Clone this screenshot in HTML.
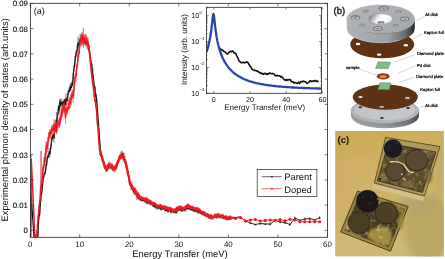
<!DOCTYPE html><html><head><meta charset="utf-8"><style>html,body{margin:0;padding:0;background:#fff;overflow:hidden}svg{display:block;will-change:transform}text{font-family:"Liberation Sans",sans-serif;text-rendering:geometricPrecision}</style></head><body>
<svg width="445" height="259" viewBox="0 0 445 259">
<defs><linearGradient id="side" x1="0" x2="1" y1="0" y2="0"><stop offset="0" stop-color="#aeb1b5"/><stop offset="0.6" stop-color="#9da0a4"/><stop offset="0.86" stop-color="#6c6e71"/><stop offset="1" stop-color="#262626"/></linearGradient><linearGradient id="topf" x1="0" x2="1" y1="0" y2="1"><stop offset="0" stop-color="#b4b7bb"/><stop offset="1" stop-color="#a2a5a9"/></linearGradient><linearGradient id="side2" x1="0" x2="1" y1="0" y2="0"><stop offset="0" stop-color="#a8a8a8"/><stop offset="0.5" stop-color="#9a9a9a"/><stop offset="0.85" stop-color="#6a6a6a"/><stop offset="1" stop-color="#262626"/></linearGradient><linearGradient id="cone" x1="0" x2="1" y1="0" y2="0.3"><stop offset="0" stop-color="#5e6266"/><stop offset="0.3" stop-color="#b8babc"/><stop offset="0.45" stop-color="#e8e8e8"/><stop offset="0.6" stop-color="#ffffff"/><stop offset="1" stop-color="#f2f2f2"/></linearGradient><linearGradient id="photo" x1="0" x2="0.3" y1="0" y2="1"><stop offset="0" stop-color="#ccaa58"/><stop offset="0.5" stop-color="#d0b064"/><stop offset="1" stop-color="#ceb878"/></linearGradient><clipPath id="mainclip"><rect x="30.5" y="3.3" width="297" height="234"/></clipPath><clipPath id="inclip"><rect x="206.5" y="7.3" width="115" height="86"/></clipPath></defs>
<g clip-path="url(#mainclip)">
<polyline points="30.5,237.2 30.9,215.0 31.2,195.0 32.5,215.0 34.0,237.2 37.5,237.2 38.0,234.4 38.5,222.1 39.0,216.3 39.5,215.6 40.0,208.9 40.5,202.4 41.0,195.5 41.5,193.6 42.0,189.7 42.5,185.6 43.0,179.3 43.5,178.0 44.0,174.5 44.5,173.6 45.0,173.5 45.5,171.3 46.0,166.5 46.5,163.9 47.0,160.9 47.5,157.5 48.0,155.7 48.5,156.8 49.0,153.1 49.5,151.4 50.0,153.9 50.5,148.2 51.0,146.6 51.5,141.6 52.0,137.6 52.5,138.4 53.0,134.5 53.5,135.7 54.0,138.1 54.5,132.9 55.0,125.6 55.5,128.6 56.0,124.2 56.5,120.6 57.0,119.6 57.5,115.5 58.0,112.9 58.5,106.2 59.0,109.8 59.5,108.2 60.0,100.5 60.5,105.6 61.0,105.0 61.5,102.4 62.0,102.8 62.5,102.2 63.0,105.9 63.5,101.7 64.0,104.4 64.5,99.7 65.0,104.3 65.5,104.2 66.0,99.0 66.5,98.8 67.0,100.8 67.5,97.7 68.0,94.2 68.5,91.5 69.0,90.7 69.5,91.4 70.0,87.2 70.5,90.0 71.0,85.4 71.5,87.6 72.0,83.2 72.5,85.4 73.0,78.5 73.5,72.2 74.0,68.4 74.5,65.2 75.0,61.2 75.5,56.7 76.0,53.1 76.5,51.9 77.0,51.4 77.5,47.5 78.0,42.6 78.5,45.1 79.0,43.7 79.5,44.0 80.0,39.7 80.5,42.1 81.0,38.0 81.5,40.7 82.0,38.5 82.5,38.1 83.0,41.6 83.5,37.8 84.0,40.1 84.5,42.2 85.0,39.3 85.5,39.5 86.0,43.3 86.5,41.3 87.0,43.1 87.5,41.2 88.0,44.6 88.5,45.3 89.0,50.6 89.5,50.3 90.0,58.2 90.5,56.8 91.0,63.6 91.5,62.9 92.0,67.5 92.5,74.0 93.0,74.7 93.5,79.0 94.0,84.9 94.5,86.5 95.0,87.9 95.5,96.1 96.0,94.9 96.5,98.6 97.0,105.2 97.5,112.4 98.0,119.3 98.5,123.5 99.0,132.1 99.5,138.0 100.0,145.5 100.5,151.0 101.0,154.4 101.5,156.6 102.0,158.0 102.5,160.1 103.0,161.5 103.5,162.5 104.0,163.3 104.5,166.0 105.0,166.4 105.5,166.8 106.0,168.8 106.5,170.9 107.0,169.1 107.5,169.2 108.0,167.6 108.5,166.8 109.0,165.4 109.5,167.5 110.0,165.5 110.5,166.4 111.0,166.6 111.5,166.2 112.0,168.3 112.5,167.7 113.0,167.7 113.5,167.9 114.0,168.5 114.5,168.1 115.0,168.6 115.5,167.3 116.0,167.6 116.5,166.6 117.0,165.8 117.5,162.4 118.0,161.6 118.5,159.6 119.0,159.1 119.5,157.8 120.0,157.6 120.5,156.7 121.0,154.8 121.5,154.5 122.0,154.1 122.5,153.6 123.0,154.5 123.5,156.4 124.0,156.5 124.5,159.7 125.0,160.1 125.5,161.3 126.0,163.2 126.5,165.5 127.0,167.8 127.5,170.8 128.0,172.9 128.5,175.0 129.0,178.4 129.5,179.7 130.0,184.1 130.5,185.6 131.0,186.4 131.5,187.0 132.0,188.5 132.5,189.7 133.0,189.4 133.5,191.4 134.0,192.1 134.5,191.6 135.0,191.8 135.5,194.0 136.0,193.5 136.5,194.8 137.0,196.7 137.5,196.8 138.0,196.4 138.5,198.7 139.0,197.6 139.5,197.1 140.0,199.2 140.5,198.6 141.0,199.5 141.5,200.6 142.0,200.4 142.5,199.5 143.0,200.4 143.5,200.5 144.0,200.8 144.5,200.5 145.0,201.3 145.5,200.6 146.0,201.2 146.5,201.5 147.0,202.7 147.5,201.5 148.0,202.9 148.5,202.1 149.0,203.0 149.5,202.9 150.0,203.3 150.5,204.0 151.0,203.7 151.5,203.5 152.0,203.9 152.5,204.1 153.0,205.8 153.5,205.7 154.0,206.6 154.5,206.4 155.0,205.6 155.5,207.0 156.0,207.5 156.5,207.8 157.0,207.5 157.5,207.4 158.0,207.6 158.5,208.3 159.0,207.5 159.5,208.0 160.0,208.0 160.5,208.9 161.0,208.8 161.5,209.1 162.0,209.1 162.5,208.3 163.0,208.4 163.5,209.0 164.0,208.8 164.5,209.3 165.0,209.9 165.5,210.5 166.0,210.1 166.5,210.7 167.0,209.6 167.5,210.2 168.0,211.5 168.5,210.1 169.0,210.7 169.5,210.2 170.0,210.3 170.5,211.8 171.0,212.1 171.5,211.6 172.0,210.8 172.5,211.2 173.0,211.2 173.5,212.1 174.0,212.2 174.5,211.9 175.0,212.1 175.5,211.5 176.0,211.9 176.5,212.1 177.0,211.3 177.5,209.7 178.0,210.0 178.5,209.9 179.0,208.8 179.5,210.1 180.0,209.5 180.5,210.1 181.0,209.7 181.5,210.9 182.0,210.7 182.5,210.4 183.0,209.8 183.5,210.5 184.0,209.5 184.5,210.2 185.0,210.3 185.5,208.8 186.0,209.1 186.5,208.7 187.0,208.3 187.5,208.5 188.0,208.6 188.5,208.2 189.0,208.0 189.5,209.1 190.0,208.3 190.5,209.3 191.0,209.3 191.5,209.8 192.0,210.2 192.5,209.3 193.0,210.2 193.5,210.0 194.0,210.5 194.5,211.2 195.0,210.7 195.5,209.7 196.0,210.6 196.5,211.2 197.0,211.6 197.5,211.3 198.0,211.7 198.5,210.4 199.0,212.1 199.5,212.0 200.0,212.2 200.5,213.1 201.0,213.4 201.5,212.4 202.0,213.9 202.5,214.1 203.0,213.3 203.5,214.5 204.0,214.5 204.5,214.1 205.0,215.4 205.5,214.5 206.0,215.6 206.5,215.5 207.0,215.5 207.5,216.3 208.0,216.3 208.5,216.1 209.0,217.7 209.5,216.4 210.0,216.5 210.5,217.6 211.0,218.2 211.5,217.8 212.0,217.9 212.5,217.3 213.0,217.6 213.5,216.9 214.0,216.7 214.5,217.0 215.0,216.1 215.5,216.0 216.0,217.1 216.5,216.0 217.0,216.9 217.5,216.9 218.0,216.1 218.5,216.5 219.0,216.8 219.5,217.1 220.0,216.0 220.5,216.2 221.0,216.7 221.5,217.0 222.0,216.8 222.5,216.5 223.0,217.6 223.5,218.4 224.0,217.5 224.5,218.0 225.0,217.9 225.5,218.1 226.0,219.0 226.5,218.2 227.0,218.8 227.5,218.5 228.0,218.6 228.5,219.3 229.0,217.9 229.5,219.2 230.0,218.3 230.5,218.9" fill="none" stroke="#111" stroke-width="1.2" stroke-linejoin="round"/>
<polyline points="230.5,218.9 230.5,217.0 235.5,217.5 240.5,216.8 245.4,221.0 250.4,223.0 255.3,224.5 260.3,223.5 265.2,224.0 270.2,224.0 275.1,220.5 280.1,221.8 285.0,222.7 290.0,224.5 294.9,218.0 299.9,220.4 304.8,219.0 309.8,218.6 314.7,220.0 319.7,217.7" fill="none" stroke="#111" stroke-width="0.9"/>
<path d="M30.5 234.7V237.2M31.2 190.1V199.9M34.0 232.5V237.2M38.0 230.4V237.2M39.0 213.5V219.0M40.0 203.5V214.2M41.0 190.1V200.9M42.0 185.6V193.8M43.0 175.3V183.4M44.0 171.6V177.4M45.0 171.7V175.4M46.0 163.0V169.9M47.0 156.5V165.4M48.0 153.6V157.8M49.0 147.8V158.5M50.0 151.0V156.7M51.0 143.7V149.4M52.0 135.6V139.6M53.0 128.2V140.8M54.0 133.0V143.2M55.0 119.9V131.4M56.0 119.6V128.7M57.0 117.6V121.6M58.0 109.7V116.2M59.0 105.7V113.8M60.0 98.1V102.8M61.0 98.9V111.1M62.0 99.3V106.2M63.0 103.4V108.4M64.0 99.0V109.9M65.0 101.9V106.7M66.0 93.1V105.0M67.0 96.9V104.6M68.0 90.0V98.5M69.0 87.4V94.1M70.0 83.3V91.2M71.0 82.7V88.0M72.0 81.2V85.2M73.0 72.8V84.2M74.0 65.5V71.2M75.0 55.9V66.5M76.0 50.3V55.8M77.0 45.2V57.5M78.0 36.7V48.4M79.0 38.5V48.9M80.0 34.4V44.9M81.0 33.6V42.4M82.0 33.4V43.6M83.0 39.3V44.0M84.0 36.2V44.1M85.0 33.8V44.8M86.0 40.6V46.0M87.0 37.2V49.1M88.0 38.8V50.4M89.0 47.0V54.3M90.0 54.8V61.6M91.0 59.8V67.4M92.0 64.0V71.0M93.0 68.4V81.0M94.0 81.3V88.4M95.0 86.0V89.8M96.0 92.7V97.1M97.0 100.1V110.2M98.0 113.0V125.5M99.0 128.1V136.2M100.0 141.5V149.5M101.0 151.8V156.9M102.0 154.9V161.1M103.0 159.9V163.2M104.0 160.6V166.1M105.0 163.8V169.0M106.0 166.0V171.5M107.0 167.5V170.6M108.0 166.0V169.1M109.0 163.4V167.5M110.0 161.9V169.1M111.0 164.6V168.6M112.0 165.6V171.0M113.0 165.8V169.6M114.0 167.1V169.8M115.0 167.3V169.8M116.0 164.4V170.9M117.0 162.6V169.0M118.0 159.5V163.6M119.0 156.2V162.1M120.0 154.7V160.5M121.0 151.3V158.3M122.0 150.4V157.7M123.0 152.3V156.7M124.0 152.7V160.2M125.0 156.4V163.7M126.0 160.5V165.8M127.0 164.3V171.2M128.0 170.5V175.3M129.0 176.3V180.5M130.0 182.3V185.8M131.0 182.9V189.8M132.0 186.9V190.0M133.0 188.2V190.7M134.0 188.8V195.3M135.0 188.6V194.9M136.0 191.1V195.9M137.0 193.4V200.1M138.0 195.2V197.6M139.0 195.8V199.4M140.0 197.3V201.0M141.0 198.1V200.8M142.0 199.5V201.4M143.0 199.6V201.2M144.0 199.6V202.0M145.0 199.2V203.4M146.0 198.9V203.4M147.0 200.9V204.6M148.0 201.5V204.3M149.0 201.9V204.1M150.0 201.1V205.5M151.0 202.2V205.2M152.0 202.0V205.7M153.0 205.1V206.5M154.0 205.6V207.6M155.0 203.6V207.6M156.0 205.6V209.5M157.0 205.5V209.6M158.0 206.0V209.3M159.0 206.1V208.8M160.0 206.4V209.6M161.0 206.7V210.8M162.0 207.9V210.2M163.0 206.9V209.9M164.0 207.7V209.9M165.0 208.0V211.8M166.0 209.4V210.8M167.0 207.8V211.4M168.0 209.3V213.7M169.0 210.0V211.4M170.0 208.7V211.9M171.0 210.4V213.8M172.0 208.8V212.8M173.0 209.6V212.8M174.0 211.1V213.3M175.0 210.8V213.4M176.0 209.7V214.1M177.0 209.2V213.5M178.0 209.1V210.8M179.0 208.0V209.6M180.0 208.7V210.3M181.0 209.0V210.4M182.0 209.3V212.0M183.0 208.9V210.7M184.0 207.4V211.5M185.0 208.6V212.1M186.0 208.2V209.9M187.0 206.8V209.8M188.0 207.4V209.8M189.0 206.6V209.5M190.0 207.3V209.3M191.0 208.4V210.3M192.0 209.2V211.1M193.0 209.0V211.5M194.0 208.7V212.3M195.0 209.2V212.2M196.0 209.9V211.3M197.0 209.8V213.4M198.0 209.6V213.8M199.0 210.2V214.0M200.0 210.3V214.1M201.0 212.8V214.1M202.0 212.5V215.3M203.0 212.6V214.1M204.0 212.6V216.4M205.0 214.5V216.3M206.0 213.8V217.4M207.0 214.4V216.5M208.0 214.6V218.1M209.0 216.5V218.9M210.0 215.8V217.2M211.0 217.0V219.5M212.0 216.8V219.1M213.0 215.5V219.7M214.0 215.5V217.8M215.0 214.6V217.5M216.0 215.6V218.7M217.0 214.8V219.1M218.0 215.3V217.0M219.0 215.2V218.4M220.0 214.5V217.4M221.0 214.9V218.5M222.0 214.6V219.0M223.0 216.4V218.7M224.0 215.8V219.3M225.0 216.4V219.4M226.0 217.5V220.6M227.0 218.0V219.5M228.0 216.7V220.6M229.0 215.6V220.1M230.0 217.1V219.5M83.3 27.7V37.0M59.3 103.0V112.0M56.6 112.0V120.0" stroke="#222" stroke-width="0.55" fill="none"/>
<path d="M230.5 215.4V218.6M235.5 216.9V218.1M240.5 216.3V217.3M245.4 219.4V222.6M250.4 222.3V223.7M255.3 223.9V225.1M260.3 222.3V224.7M265.2 223.1V224.9M270.2 222.5V225.5M275.1 219.8V221.2M280.1 220.2V223.4M285.0 221.9V223.5M290.0 223.3V225.7M294.9 216.5V219.5M299.9 219.1V221.7M304.8 217.5V220.5M309.8 217.3V219.9M314.7 219.5V220.5M319.7 216.2V219.2" stroke="#222" stroke-width="0.7" fill="none"/>
<path d="M230.5 216.4l1.1 1.4h-2.2z" fill="#111"/><path d="M235.5 216.9l1.1 1.4h-2.2z" fill="#111"/><path d="M240.5 216.2l1.1 1.4h-2.2z" fill="#111"/><path d="M245.4 220.4l1.1 1.4h-2.2z" fill="#111"/><path d="M250.4 222.4l1.1 1.4h-2.2z" fill="#111"/><path d="M255.3 223.9l1.1 1.4h-2.2z" fill="#111"/><path d="M260.3 222.9l1.1 1.4h-2.2z" fill="#111"/><path d="M265.2 223.4l1.1 1.4h-2.2z" fill="#111"/><path d="M270.2 223.4l1.1 1.4h-2.2z" fill="#111"/><path d="M275.1 219.9l1.1 1.4h-2.2z" fill="#111"/><path d="M280.1 221.2l1.1 1.4h-2.2z" fill="#111"/><path d="M285.0 222.1l1.1 1.4h-2.2z" fill="#111"/><path d="M290.0 223.9l1.1 1.4h-2.2z" fill="#111"/><path d="M294.9 217.4l1.1 1.4h-2.2z" fill="#111"/><path d="M299.9 219.8l1.1 1.4h-2.2z" fill="#111"/><path d="M304.8 218.4l1.1 1.4h-2.2z" fill="#111"/><path d="M309.8 218.0l1.1 1.4h-2.2z" fill="#111"/><path d="M314.7 219.4l1.1 1.4h-2.2z" fill="#111"/><path d="M319.7 217.1l1.1 1.4h-2.2z" fill="#111"/>
<polyline points="30.6,237.2 31.0,200.0 31.3,159.5 33.2,200.0 34.8,237.2 36.5,234.2 37.0,234.3 37.5,227.8 38.0,217.7 38.5,213.9 39.0,207.7 39.5,203.6 40.0,199.9 40.5,190.0 41.0,185.2 41.5,187.8 42.0,180.0 42.5,178.4 43.0,167.6 43.5,167.2 44.0,165.7 44.5,157.7 45.0,160.9 45.5,157.8 46.0,147.8 46.5,145.1 47.0,147.2 47.5,148.2 48.0,141.3 48.5,136.9 49.0,137.9 49.5,132.4 50.0,133.2 50.5,134.3 51.0,133.7 51.5,129.6 52.0,128.9 52.5,128.2 53.0,130.2 53.5,127.8 54.0,124.2 54.5,132.5 55.0,128.8 55.5,129.2 56.0,123.6 56.5,131.5 57.0,129.1 57.5,120.1 58.0,121.5 58.5,124.8 59.0,123.8 59.5,124.8 60.0,117.6 60.5,120.6 61.0,117.4 61.5,110.9 62.0,111.5 62.5,112.2 63.0,109.3 63.5,105.2 64.0,109.1 64.5,105.9 65.0,110.0 65.5,117.9 66.0,112.6 66.5,108.2 67.0,110.5 67.5,110.7 68.0,108.0 68.5,104.7 69.0,103.9 69.5,103.2 70.0,103.6 70.5,100.8 71.0,98.8 71.5,98.4 72.0,94.5 72.5,93.6 73.0,96.7 73.5,95.4 74.0,88.6 74.5,83.2 75.0,77.8 75.5,76.0 76.0,75.7 76.5,70.9 77.0,65.7 77.5,64.0 78.0,56.3 78.5,54.3 79.0,53.3 79.5,47.2 80.0,44.0 80.5,40.6 81.0,40.8 81.5,41.9 82.0,35.1 82.5,39.5 83.0,40.6 83.5,41.9 84.0,40.5 84.5,40.4 85.0,39.1 85.5,39.9 86.0,39.8 86.5,38.2 87.0,44.2 87.5,43.4 88.0,42.4 88.5,46.0 89.0,48.4 89.5,50.8 90.0,55.0 90.5,62.1 91.0,68.4 91.5,73.7 92.0,77.7 92.5,79.2 93.0,84.6 93.5,87.6 94.0,92.8 94.5,97.3 95.0,99.6 95.5,102.3 96.0,107.0 96.5,108.5 97.0,118.4 97.5,124.3 98.0,128.8 98.5,136.0 99.0,142.5 99.5,149.6 100.0,149.7 100.5,151.8 101.0,155.1" fill="none" stroke="#ee1c24" stroke-width="1.5" stroke-linejoin="round"/>
<polyline points="100.0,149.7 100.5,151.8 101.0,155.1 101.5,155.9 102.0,156.7 102.5,158.7 103.0,161.4 103.5,161.9 104.0,163.7 104.5,166.7 105.0,166.8 105.5,167.4 106.0,168.8 106.5,168.4 107.0,168.9 107.5,167.9 108.0,166.1 108.5,164.8 109.0,167.1 109.5,165.7 110.0,164.5 110.5,165.8 111.0,167.1 111.5,165.4 112.0,166.1 112.5,167.0 113.0,169.1 113.5,167.6 114.0,169.6 114.5,169.3 115.0,167.9 115.5,166.0 116.0,167.4 116.5,165.9 117.0,164.1 117.5,161.9 118.0,162.1 118.5,160.1 119.0,159.4 119.5,157.4 120.0,157.7 120.5,155.3 121.0,155.4 121.5,156.8 122.0,155.9 122.5,154.9 123.0,157.5 123.5,156.6 124.0,159.4 124.5,160.4 125.0,161.1 125.5,162.2 126.0,163.2 126.5,167.9 127.0,167.3 127.5,171.8 128.0,174.5 128.5,175.8 129.0,177.1 129.5,181.8 130.0,183.9 130.5,184.2 131.0,184.8 131.5,185.6 132.0,186.5 132.5,187.1 133.0,189.5 133.5,189.3 134.0,189.0 134.5,189.2 135.0,191.4 135.5,190.7 136.0,192.4 136.5,192.9 137.0,195.6 137.5,196.3 138.0,193.9 138.5,194.9 139.0,195.7 139.5,198.1 140.0,197.6 140.5,197.1 141.0,197.2 141.5,198.3 142.0,198.8 142.5,199.2 143.0,198.2 143.5,199.4 144.0,199.2 144.5,199.0 145.0,200.2 145.5,198.8 146.0,200.0 146.5,198.9 147.0,199.3 147.5,201.1 148.0,199.9 148.5,201.3 149.0,201.2 149.5,202.0 150.0,201.2 150.5,201.4 151.0,201.6 151.5,203.2 152.0,202.9 152.5,204.0 153.0,204.2 153.5,202.9 154.0,204.1 154.5,203.5 155.0,203.7 155.5,204.1 156.0,206.0 156.5,206.2 157.0,206.4 157.5,205.5 158.0,206.2 158.5,206.6 159.0,205.8 159.5,206.3 160.0,205.7 160.5,205.5 161.0,205.9 161.5,207.3 162.0,206.8 162.5,207.7 163.0,207.0 163.5,206.8 164.0,208.0 164.5,208.3 165.0,206.8 165.5,208.3 166.0,207.3 166.5,207.5 167.0,209.3 167.5,207.7 168.0,208.3 168.5,210.0 169.0,208.9 169.5,208.3 170.0,208.6 170.5,208.8 171.0,210.0 171.5,208.7 172.0,210.5 172.5,209.5 173.0,210.8 173.5,210.8 174.0,209.6 174.5,209.7 175.0,210.2 175.5,209.5 176.0,210.3 176.5,208.5 177.0,208.0 177.5,209.5 178.0,207.6 178.5,207.7 179.0,207.2 179.5,207.0 180.0,206.7 180.5,208.6 181.0,208.9 181.5,209.1 182.0,207.5 182.5,207.9 183.0,208.9 183.5,209.8 184.0,208.6 184.5,208.5 185.0,208.1 185.5,207.0 186.0,207.2 186.5,206.4 187.0,206.0 187.5,205.3 188.0,205.4 188.5,206.9 189.0,206.0 189.5,206.7 190.0,206.9 190.5,207.7 191.0,206.8 191.5,206.9 192.0,207.2 192.5,207.4 193.0,208.8 193.5,209.0 194.0,208.0 194.5,208.3 195.0,208.9 195.5,209.2 196.0,209.4 196.5,208.8 197.0,208.6 197.5,209.2 198.0,209.1 198.5,210.2 199.0,209.4 199.5,209.7 200.0,211.3 200.5,211.0 201.0,212.4 201.5,212.1 202.0,213.1 202.5,211.9 203.0,212.9 203.5,213.7 204.0,212.5 204.5,214.6 205.0,213.2 205.5,214.7 206.0,215.4 206.5,215.3 207.0,214.5 207.5,214.3 208.0,215.4 208.5,216.5 209.0,215.4 209.5,216.9 210.0,215.6 210.5,217.5 211.0,215.7 211.5,216.2 212.0,217.3 212.5,217.0 213.0,217.1 213.5,216.9 214.0,216.6 214.5,216.4 215.0,215.2 215.5,215.6 216.0,215.0 216.5,216.0 217.0,215.9 217.5,214.9 218.0,214.4 218.5,216.2 219.0,216.0 219.5,215.6 220.0,215.8 220.5,216.6 221.0,216.0 221.5,216.0 222.0,216.1 222.5,216.1 223.0,215.8 223.5,217.2 224.0,216.9 224.5,217.4 225.0,216.6 225.5,217.3 226.0,217.1 226.5,217.2 227.0,217.5 227.5,218.7 228.0,217.8 228.5,217.9 229.0,218.3 229.5,217.6 230.0,217.1 230.5,218.2" fill="none" stroke="#ee1c24" stroke-width="2.3" stroke-linejoin="round"/>
<polyline points="230.5,218.2 230.5,218.5 235.5,218.5 240.5,217.5 245.4,221.0 250.4,220.0 255.3,219.5 260.3,221.0 265.2,220.4 270.2,220.0 275.1,220.2 280.1,219.5 285.0,220.9 290.0,219.3 294.9,220.0 299.9,221.8 304.8,221.8 309.8,221.8 314.7,221.6 319.7,221.8" fill="none" stroke="#ee1c24" stroke-width="0.9"/>
<path d="M30.6 231.2V237.2M31.0 193.9V206.1M31.3 153.7V165.3M33.2 197.8V202.2M34.8 232.7V237.2M36.5 230.5V237.2M37.0 230.1V237.2M37.5 225.4V230.2M38.0 215.1V220.4M38.5 210.1V217.7M39.0 204.9V210.5M39.5 199.7V207.4M40.0 198.0V201.8M40.5 187.8V192.1M41.0 180.2V190.2M41.5 184.1V191.5M42.0 175.9V184.1M42.5 173.3V183.5M43.0 164.2V171.0M43.5 165.2V169.3M44.0 160.4V171.0M44.5 153.3V162.2M45.0 156.2V165.7M45.5 153.2V162.4M46.0 141.6V153.9M46.5 141.7V148.6M47.0 141.9V152.4M47.5 144.7V151.7M48.0 136.9V145.7M48.5 132.1V141.7M49.0 134.7V141.1M49.5 130.2V134.5M50.0 129.3V137.1M50.5 129.3V139.4M51.0 129.2V138.2M51.5 125.8V133.4M52.0 124.3V133.6M52.5 125.6V130.8M53.0 127.6V132.8M53.5 124.5V131.0M54.0 118.7V129.7M54.5 129.8V135.2M55.0 126.5V131.2M55.5 126.9V131.4M56.0 121.6V125.5M56.5 128.4V134.5M57.0 124.7V133.5M57.5 114.6V125.6M58.0 118.2V124.8M58.5 121.4V128.3M59.0 120.7V126.9M59.5 121.6V127.9M60.0 112.4V122.9M60.5 116.3V124.9M61.0 114.4V120.3M61.5 108.6V113.1M62.0 106.1V116.8M62.5 107.2V117.2M63.0 103.8V114.8M63.5 102.4V108.1M64.0 104.8V113.3M64.5 100.0V111.9M65.0 105.5V114.5M65.5 111.8V123.9M66.0 110.1V115.2M66.5 102.0V114.4M67.0 108.5V112.6M67.5 107.0V114.4M68.0 106.1V109.9M68.5 99.3V110.2M69.0 99.0V108.8M69.5 97.0V109.3M70.0 98.2V109.1M70.5 94.8V106.9M71.0 94.6V103.1M71.5 92.2V104.7M72.0 89.3V99.7M72.5 90.2V96.9M73.0 90.5V102.9M73.5 91.9V98.9M74.0 85.9V91.3M74.5 81.0V85.3M75.0 73.9V81.7M75.5 73.3V78.7M76.0 69.7V81.7M76.5 64.9V77.0M77.0 63.0V68.5M77.5 61.7V66.3M78.0 52.1V60.5M78.5 51.8V56.9M79.0 49.1V57.6M79.5 41.8V52.7M80.0 41.0V46.9M80.5 36.9V44.3M81.0 34.9V46.7M81.5 38.1V45.7M82.0 31.7V38.4M82.5 33.6V45.3M83.0 35.1V46.1M83.5 36.1V47.7M84.0 35.6V45.4M84.5 36.8V44.1M85.0 34.2V44.0M85.5 34.3V45.4M86.0 35.1V44.5M86.5 35.4V41.1M87.0 41.1V47.4M87.5 39.8V47.1M88.0 37.1V47.6M88.5 41.7V50.3M89.0 44.1V52.7M89.5 45.3V56.3M90.0 52.8V57.3M90.5 57.4V66.7M91.0 65.1V71.7M91.5 69.4V78.0M92.0 72.2V83.3M92.5 76.3V82.1M93.0 78.6V90.7M93.5 85.4V89.8M94.0 88.5V97.2M94.5 93.0V101.5M95.0 96.7V102.4M95.5 98.0V106.6M96.0 103.1V110.9M96.5 104.6V112.3M97.0 113.3V123.4M97.5 122.5V126.1M98.0 125.3V132.3M98.5 130.6V141.3M99.0 140.0V144.9M99.5 143.9V155.3M100.0 147.0V152.4M100.5 148.9V154.7M101.0 153.5V156.6M101.5 153.6V158.2M102.0 154.5V158.9M102.5 157.4V160.0M103.0 158.4V164.4M103.5 159.5V164.2M104.0 160.8V166.7M104.5 164.1V169.2M105.0 164.3V169.4M105.5 164.9V169.9M106.0 167.0V170.7M106.5 164.9V171.9M107.0 167.6V170.2M107.5 164.5V171.4M108.0 162.7V169.5M108.5 162.4V167.2M109.0 163.9V170.2M109.5 162.8V168.6M110.0 161.8V167.3M110.5 163.9V167.6M111.0 165.2V169.1M111.5 163.3V167.4M112.0 164.2V168.0M112.5 163.3V170.7M113.0 167.1V171.1M113.5 165.5V169.7M114.0 167.4V171.8M114.5 166.0V172.6M115.0 165.5V170.3M115.5 163.4V168.5M116.0 165.6V169.1M116.5 164.0V167.7M117.0 162.7V165.4M117.5 160.3V163.6M118.0 160.3V163.9M118.5 156.7V163.5M119.0 157.0V161.9M119.5 156.1V158.8M120.0 155.4V160.1M120.5 153.9V156.7M121.0 152.8V158.0M121.5 154.5V159.1M122.0 152.5V159.3M122.5 153.1V156.7M123.0 154.1V160.8M123.5 154.8V158.3M124.0 155.6V163.1M124.5 157.6V163.2M125.0 159.9V162.2M125.5 158.9V165.5M126.0 161.3V165.0M126.5 165.9V170.0M127.0 165.8V168.8M127.5 168.4V175.1M128.0 173.1V175.8M128.5 172.7V178.9M129.0 175.0V179.2M129.5 178.9V184.7M130.0 182.0V185.8M130.5 183.0V185.5M131.0 181.3V188.4M131.5 182.8V188.5M132.0 185.0V188.1M132.5 183.4V190.8M133.0 186.0V193.1M133.5 187.8V190.9M134.0 187.9V190.2M134.5 186.5V191.9M135.0 189.9V192.8M135.5 187.6V193.7M136.0 190.0V194.7M136.5 189.9V195.9M137.0 193.0V198.3M137.5 193.1V199.4M138.0 190.6V197.2M138.5 192.2V197.6M139.0 193.0V198.3M139.5 196.2V200.1M140.0 196.2V199.0M140.5 196.3V197.9M141.0 195.2V199.2M141.5 197.4V199.3M142.0 197.5V200.2M142.5 198.0V200.4M143.0 196.5V199.8M143.5 197.9V201.0M144.0 197.2V201.3M144.5 197.6V200.3M145.0 198.9V201.4M145.5 197.1V200.5M146.0 198.2V201.9M146.5 196.8V201.1M147.0 198.2V200.5M147.5 199.1V203.2M148.0 197.7V202.2M148.5 199.1V203.5M149.0 200.4V202.1M149.5 200.7V203.2M150.0 199.3V203.1M150.5 199.4V203.4M151.0 200.9V202.4M151.5 201.9V204.5M152.0 201.1V204.8M152.5 202.1V205.9M153.0 202.6V205.7M153.5 201.9V203.9M154.0 202.8V205.4M154.5 202.7V204.2M155.0 202.5V204.8M155.5 202.7V205.4M156.0 204.0V208.0M156.5 204.6V207.8M157.0 205.1V207.8M157.5 204.5V206.5M158.0 205.0V207.3M158.5 204.9V208.3M159.0 204.5V207.2M159.5 205.4V207.2M160.0 203.7V207.7M160.5 203.9V207.0M161.0 203.7V208.1M161.5 205.8V208.8M162.0 205.2V208.5M162.5 206.4V209.1M163.0 205.3V208.6M163.5 204.6V208.9M164.0 205.8V210.2M164.5 206.6V210.0M165.0 205.4V208.1M165.5 207.6V209.1M166.0 205.3V209.3M166.5 206.2V208.8M167.0 208.0V210.6M167.5 207.0V208.5M168.0 207.6V209.0M168.5 208.7V211.2M169.0 206.7V211.1M169.5 206.5V210.2M170.0 206.8V210.4M170.5 207.1V210.5M171.0 208.9V211.1M171.5 207.8V209.7M172.0 208.9V212.1M172.5 208.8V210.3M173.0 209.2V212.4M173.5 209.3V212.3M174.0 208.1V211.2M174.5 208.8V210.5M175.0 209.5V211.0M175.5 208.1V211.0M176.0 209.4V211.2M176.5 206.9V210.2M177.0 206.8V209.1M177.5 207.9V211.2M178.0 205.7V209.4M178.5 206.1V209.3M179.0 205.7V208.7M179.5 206.1V208.0M180.0 205.5V207.9M180.5 206.4V210.9M181.0 207.8V210.0M181.5 208.0V210.2M182.0 206.0V208.9M182.5 206.3V209.4M183.0 206.9V210.8M183.5 208.7V210.9M184.0 206.4V210.8M184.5 207.8V209.2M185.0 206.2V210.1M185.5 205.4V208.6M186.0 205.1V209.3M186.5 205.5V207.3M187.0 204.2V207.7M187.5 203.1V207.5M188.0 203.6V207.1M188.5 206.0V207.7M189.0 203.8V208.1M189.5 204.4V208.9M190.0 206.1V207.7M190.5 205.8V209.7M191.0 206.1V207.6M191.5 206.1V207.7M192.0 205.3V209.1M192.5 205.6V209.2M193.0 206.6V211.0M193.5 207.4V210.7M194.0 206.5V209.5M194.5 207.2V209.4M195.0 207.3V210.5M195.5 206.9V211.4M196.0 207.7V211.1M196.5 206.8V210.9M197.0 207.6V209.5M197.5 207.4V211.1M198.0 207.2V210.9M198.5 209.5V211.0M199.0 207.5V211.4M199.5 208.8V210.7M200.0 210.3V212.3M200.5 210.2V211.7M201.0 210.7V214.1M201.5 211.2V213.0M202.0 210.9V215.3M202.5 211.2V212.5M203.0 210.9V214.8M203.5 211.9V215.6M204.0 210.9V214.1M204.5 213.0V216.1M205.0 211.3V215.1M205.5 213.0V216.4M206.0 214.5V216.3M206.5 213.4V217.2M207.0 213.3V215.7M207.5 212.7V215.9M208.0 213.9V216.9M208.5 214.4V218.6M209.0 214.1V216.8M209.5 214.9V219.0M210.0 214.8V216.4M210.5 216.3V218.6M211.0 213.9V217.4M211.5 214.5V217.8M212.0 215.3V219.3M212.5 216.0V218.0M213.0 215.2V219.1M213.5 214.9V218.8M214.0 215.7V217.5M214.5 215.5V217.2M215.0 213.6V216.8M215.5 213.4V217.9M216.0 213.3V216.6M216.5 214.7V217.4M217.0 214.4V217.3M217.5 212.9V216.9M218.0 212.9V215.9M218.5 214.7V217.7M219.0 214.4V217.6M219.5 213.5V217.8M220.0 213.8V217.7M220.5 214.6V218.6M221.0 214.9V217.0M221.5 214.4V217.6M222.0 214.1V218.1M222.5 214.3V217.9M223.0 213.6V218.0M223.5 215.1V219.4M224.0 216.1V217.8M224.5 216.0V218.9M225.0 215.3V217.8M225.5 216.4V218.3M226.0 215.6V218.5M226.5 215.0V219.5M227.0 215.6V219.4M227.5 217.9V219.5M228.0 216.8V218.9M228.5 216.6V219.1M229.0 216.2V220.4M229.5 216.2V219.0M230.0 216.2V218.0M230.5 216.7V219.8M40.6 151.0V191.5M41.5 151.0V180.0M63.3 103.0V112.0" stroke="#ee1c24" stroke-width="0.55" fill="none"/>
<circle cx="230.5" cy="218.5" r="1.55" fill="#ee1c24"/><circle cx="235.5" cy="218.5" r="1.55" fill="#ee1c24"/><circle cx="240.5" cy="217.5" r="1.55" fill="#ee1c24"/><circle cx="245.4" cy="221.0" r="1.55" fill="#ee1c24"/><circle cx="250.4" cy="220.0" r="1.55" fill="#ee1c24"/><circle cx="255.3" cy="219.5" r="1.55" fill="#ee1c24"/><circle cx="260.3" cy="221.0" r="1.55" fill="#ee1c24"/><circle cx="265.2" cy="220.4" r="1.55" fill="#ee1c24"/><circle cx="270.2" cy="220.0" r="1.55" fill="#ee1c24"/><circle cx="275.1" cy="220.2" r="1.55" fill="#ee1c24"/><circle cx="280.1" cy="219.5" r="1.55" fill="#ee1c24"/><circle cx="285.0" cy="220.9" r="1.55" fill="#ee1c24"/><circle cx="290.0" cy="219.3" r="1.55" fill="#ee1c24"/><circle cx="294.9" cy="220.0" r="1.55" fill="#ee1c24"/><circle cx="299.9" cy="221.8" r="1.55" fill="#ee1c24"/><circle cx="304.8" cy="221.8" r="1.55" fill="#ee1c24"/><circle cx="309.8" cy="221.8" r="1.55" fill="#ee1c24"/><circle cx="314.7" cy="221.6" r="1.55" fill="#ee1c24"/><circle cx="319.7" cy="221.8" r="1.55" fill="#ee1c24"/>
</g>
<rect x="30.5" y="3.3" width="297" height="234" fill="none" stroke="#222" stroke-width="0.8"/>
<path d="M30.2 237.3v-3M30.2 3.3v3M79.7 237.3v-3M79.7 3.3v3M129.3 237.3v-3M129.3 3.3v3M178.8 237.3v-3M178.8 3.3v3M228.3 237.3v-3M228.3 3.3v3M277.9 237.3v-3M277.9 3.3v3M327.4 237.3v-3M327.4 3.3v3M30.5 230.3h3M327.5 230.3h-3M30.5 205.1h3M327.5 205.1h-3M30.5 179.9h3M327.5 179.9h-3M30.5 154.7h3M327.5 154.7h-3M30.5 129.5h3M327.5 129.5h-3M30.5 104.3h3M327.5 104.3h-3M30.5 79.1h3M327.5 79.1h-3M30.5 53.9h3M327.5 53.9h-3M30.5 28.7h3M327.5 28.7h-3M30.5 3.5h3M327.5 3.5h-3" stroke="#222" stroke-width="0.6" fill="none"/>
<text x="30.2" y="246.8" font-size="7.9" text-anchor="middle" fill="#111">0</text>
<text x="79.7" y="246.8" font-size="7.9" text-anchor="middle" fill="#111">10</text>
<text x="129.3" y="246.8" font-size="7.9" text-anchor="middle" fill="#111">20</text>
<text x="178.8" y="246.8" font-size="7.9" text-anchor="middle" fill="#111">30</text>
<text x="228.3" y="246.8" font-size="7.9" text-anchor="middle" fill="#111">40</text>
<text x="277.9" y="246.8" font-size="7.9" text-anchor="middle" fill="#111">50</text>
<text x="327.4" y="246.8" font-size="7.9" text-anchor="middle" fill="#111">60</text>
<text x="27.9" y="233.1" font-size="7.8" text-anchor="end" fill="#0a0a0a" stroke="#0a0a0a" stroke-width="0.08">0</text>
<text x="27.9" y="207.9" font-size="7.8" text-anchor="end" fill="#0a0a0a" stroke="#0a0a0a" stroke-width="0.08">0.01</text>
<text x="27.9" y="182.7" font-size="7.8" text-anchor="end" fill="#0a0a0a" stroke="#0a0a0a" stroke-width="0.08">0.02</text>
<text x="27.9" y="157.5" font-size="7.8" text-anchor="end" fill="#0a0a0a" stroke="#0a0a0a" stroke-width="0.08">0.03</text>
<text x="27.9" y="132.2" font-size="7.8" text-anchor="end" fill="#0a0a0a" stroke="#0a0a0a" stroke-width="0.08">0.04</text>
<text x="27.9" y="107.1" font-size="7.8" text-anchor="end" fill="#0a0a0a" stroke="#0a0a0a" stroke-width="0.08">0.05</text>
<text x="27.9" y="81.9" font-size="7.8" text-anchor="end" fill="#0a0a0a" stroke="#0a0a0a" stroke-width="0.08">0.06</text>
<text x="27.9" y="56.7" font-size="7.8" text-anchor="end" fill="#0a0a0a" stroke="#0a0a0a" stroke-width="0.08">0.07</text>
<text x="27.9" y="31.5" font-size="7.8" text-anchor="end" fill="#0a0a0a" stroke="#0a0a0a" stroke-width="0.08">0.08</text>
<text x="27.9" y="6.3" font-size="7.8" text-anchor="end" fill="#0a0a0a" stroke="#0a0a0a" stroke-width="0.08">0.09</text>
<text x="180" y="256.5" font-size="9.45" text-anchor="middle" fill="#111">Energy Transfer (meV)</text>
<text transform="translate(8.4,119.8) rotate(-90)" font-size="9.37" text-anchor="middle" fill="#111">Experimental phonon density of states (arb.units)</text>
<text x="33.8" y="14.4" font-size="9" fill="#111">(a)</text>
<rect x="257.2" y="169.5" width="59.7" height="27" fill="#fff" stroke="#222" stroke-width="0.7"/>
<path d="M261.7 176.7H281.5" stroke="#222" stroke-width="0.7"/><circle cx="271.9" cy="176.7" r="0.9" fill="#222"/>
<path d="M261.7 188.7H281.5" stroke="#ee1c24" stroke-width="0.7"/><circle cx="271.9" cy="188.7" r="0.9" fill="#ee1c24"/>
<text x="284.2" y="180.1" font-size="9.4" fill="#111">Parent</text>
<text x="284.2" y="192.6" font-size="9.4" fill="#111">Doped</text>
<rect x="206.5" y="7.3" width="115" height="86" fill="#fff" stroke="#222" stroke-width="0.8"/>
<g clip-path="url(#inclip)">
<polyline points="219.5,48.1 220.4,48.9 221.3,49.9 222.2,49.9 223.1,50.6 224.0,51.5 224.9,51.7 225.8,52.9 226.7,53.8 227.6,54.1 228.5,52.6 229.4,52.2 230.3,51.3 231.2,51.7 232.1,51.3 233.0,51.0 233.9,52.8 234.8,53.3 235.7,53.4 236.6,55.6 237.5,57.2 238.4,59.2 239.3,61.4 240.2,61.7 241.1,62.8 242.0,62.7 242.9,62.2 243.8,62.7 244.7,62.5 245.6,62.7 246.5,61.9 247.4,62.0 248.3,63.2 249.2,64.8 250.1,66.0 251.0,67.2 251.9,69.0 252.8,69.7 253.7,70.1 254.6,70.5 255.5,70.4 256.4,70.7 257.3,71.2 258.2,71.3 259.1,72.6 260.0,72.5 260.9,73.5 261.8,73.1 262.7,74.1 263.6,74.1 264.5,73.2 265.4,73.6 266.3,74.4 267.2,73.7 268.1,74.3 269.0,73.4 269.9,72.8 270.8,73.4 271.7,73.8 272.6,73.5 273.5,73.7 274.4,74.5 275.3,75.8 276.2,75.9 277.1,75.3 278.0,75.7 278.9,75.7 279.8,75.8 280.7,77.1 281.6,76.4 282.5,77.6 283.4,78.7 284.3,79.5 285.2,80.4 286.1,79.6 287.0,80.3 287.9,79.5 288.8,79.9 289.7,79.6 290.6,80.0 291.5,81.6 292.4,81.9 293.3,81.8 294.2,83.2 295.1,82.6 296.0,82.8 296.9,83.4 297.8,83.0 298.7,82.2 299.6,83.4 300.5,81.9 301.4,81.5 302.3,81.9 303.2,81.1 304.1,81.5 305.0,81.7 305.9,82.1 306.8,83.3 307.7,83.2 308.6,82.6 309.5,81.1 310.4,80.9 311.3,81.6 312.2,81.0 313.1,81.1 314.0,81.5 314.9,80.6 315.8,80.5 316.7,81.6 317.6,81.4 318.5,80.6" fill="none" stroke="#111" stroke-width="1.6" stroke-linejoin="round"/>
<polyline points="206.6,52.0 206.7,51.7 206.7,51.5 206.8,51.2 206.9,50.9 207.0,50.6 207.1,50.3 207.2,50.1 207.3,49.8 207.4,49.5 207.5,49.2 207.6,48.8 207.6,48.5 207.7,48.2 207.8,47.9 207.9,47.6 208.0,47.2 208.1,46.9 208.2,46.6 208.3,46.2 208.4,45.9 208.5,45.5 208.6,45.1 208.6,44.8 208.7,44.4 208.8,44.0 208.9,43.6 209.0,43.2 209.1,42.8 209.2,42.4 209.3,42.0 209.4,41.5 209.5,41.1 209.5,40.6 209.6,40.2 209.7,39.7 209.8,39.3 209.9,38.8 210.0,38.3 210.1,37.8 210.2,37.3 210.3,36.7 210.4,36.2 210.5,35.6 210.5,35.1 210.6,34.5 210.7,33.9 210.8,33.3 210.9,32.7 211.0,32.1 211.1,31.4 211.2,30.8 211.3,30.1 211.4,29.4 211.4,28.7 211.5,28.0 211.6,27.2 211.7,26.5 211.8,25.7 211.9,25.0 212.0,24.2 212.1,23.4 212.2,22.5 212.3,21.7 212.4,20.9 212.4,20.1 212.5,19.3 212.6,18.5 212.7,17.7 212.8,17.0 212.9,16.3 213.0,15.7 213.1,15.2 213.2,14.7 213.3,14.4 213.3,14.2 213.4,14.1 213.5,14.2 213.6,14.4 213.7,14.7 213.8,15.2 213.9,15.7 214.0,16.3 214.1,17.0 214.2,17.7 214.3,18.5 214.3,19.3 214.4,20.1 214.5,20.9 214.6,21.7 214.7,22.5 214.8,23.4 214.9,24.2 215.0,25.0 215.1,25.7 215.2,26.5 215.2,27.2 215.3,28.0 215.4,28.7 215.5,29.4 215.6,30.1 215.7,30.8 215.8,31.4 215.9,32.1 216.0,32.7 216.1,33.3 216.2,33.9 216.2,34.5 216.3,35.1 216.4,35.6 216.5,36.2 216.6,36.7 216.7,37.3 216.8,37.8 216.9,38.3 217.0,38.8 217.1,39.3 217.1,39.7 217.2,40.2 217.3,40.6 217.4,41.1 217.5,41.5 217.6,42.0 217.7,42.4 217.8,42.8 217.9,43.2 218.0,43.6 218.1,44.0 218.1,44.4 218.2,44.8 218.3,45.1 218.4,45.5 218.5,45.9 218.6,46.2 218.7,46.6 218.8,46.9 218.9,47.2 219.0,47.6 219.0,47.9 219.1,48.2 219.2,48.5 219.3,48.8 219.4,49.2 219.5,49.5 219.6,49.8 219.7,50.1 219.8,50.3 219.9,50.6 220.0,50.9 220.0,51.2 220.1,51.5 220.2,51.7 220.3,52.0 220.4,52.3 220.5,52.5 220.6,52.8 220.7,53.0 220.8,53.3 220.9,53.5 220.9,53.8 221.0,54.0 221.1,54.3 221.2,54.5 221.3,54.7 221.4,55.0 221.5,55.2 221.6,55.4 221.7,55.6 221.8,55.9 221.9,56.1 221.9,56.3 222.0,56.5 222.1,56.7 222.2,56.9 222.3,57.1 222.4,57.3 222.5,57.5 222.6,57.7 222.7,57.9 222.8,58.1 222.8,58.3 222.9,58.5 223.0,58.7 223.1,58.9 223.2,59.1 223.3,59.3 223.4,59.4 223.5,59.6 223.6,59.8 223.7,60.0 223.8,60.2 223.8,60.3 223.9,60.5 224.0,60.7 224.1,60.8 224.2,61.0 224.3,61.2 224.4,61.3 224.5,61.5 224.6,61.7 224.7,61.8 224.8,62.0 225.7,63.5 226.6,64.8 227.5,66.1 228.4,67.3 229.3,68.4 230.2,69.4 231.1,70.3 232.0,71.2 232.9,72.1 233.8,72.8 234.7,73.6 235.6,74.2 236.5,74.9 237.4,75.5 238.3,76.1 239.2,76.6 240.1,77.1 241.0,77.6 241.9,78.1 242.9,78.5 243.8,79.0 244.7,79.3 245.6,79.7 246.5,80.1 247.4,80.4 248.3,80.7 249.2,81.1 250.1,81.4 251.0,81.6 251.9,81.9 252.8,82.2 253.7,82.4 254.6,82.7 255.5,82.9 256.4,83.1 257.3,83.3 258.2,83.5 259.1,83.7 260.0,83.9 261.0,84.1 261.9,84.2 262.8,84.4 263.7,84.5 264.6,84.7 265.5,84.8 266.4,85.0 267.3,85.1 268.2,85.2 269.1,85.4 270.0,85.5 270.9,85.6 271.8,85.7 272.7,85.8 273.6,85.9 274.5,86.0 275.4,86.1 276.3,86.2 277.2,86.3 278.1,86.4 279.1,86.5 280.0,86.5 280.9,86.6 281.8,86.7 282.7,86.8 283.6,86.9 284.5,86.9 285.4,87.0 286.3,87.1 287.2,87.1 288.1,87.2 289.0,87.2 289.9,87.3 290.8,87.4 291.7,87.4 292.6,87.5 293.5,87.5 294.4,87.6 295.3,87.6 296.2,87.7 297.2,87.7 298.1,87.8 299.0,87.8 299.9,87.8 300.8,87.9 301.7,87.9 302.6,88.0 303.5,88.0 304.4,88.0 305.3,88.1 306.2,88.1 307.1,88.1 308.0,88.2 308.9,88.2 309.8,88.2 310.7,88.3 311.6,88.3 312.5,88.3 313.4,88.4 314.3,88.4 315.3,88.4 316.2,88.4 317.1,88.5 318.0,88.5 318.9,88.5 319.8,88.5 320.7,88.6 321.6,88.6" fill="none" stroke="#2a47a8" stroke-width="2.3"/>
</g>
<path d="M213.8 93.3v-2.5M213.8 7.3v2.5M250.0 93.3v-2.5M250.0 7.3v2.5M286.2 93.3v-2.5M286.2 7.3v2.5M322.4 93.3v-2.5M322.4 7.3v2.5M206.5 93.3h2.5M321.5 93.3h-2.5M206.5 85.5h1.3M321.5 85.5h-1.3M206.5 81.0h1.3M321.5 81.0h-1.3M206.5 77.7h1.3M321.5 77.7h-1.3M206.5 75.2h1.3M321.5 75.2h-1.3M206.5 73.2h1.3M321.5 73.2h-1.3M206.5 71.4h1.3M321.5 71.4h-1.3M206.5 69.9h1.3M321.5 69.9h-1.3M206.5 68.6h1.3M321.5 68.6h-1.3M206.5 67.4h2.5M321.5 67.4h-2.5M206.5 59.7h1.3M321.5 59.7h-1.3M206.5 55.1h1.3M321.5 55.1h-1.3M206.5 51.9h1.3M321.5 51.9h-1.3M206.5 49.4h1.3M321.5 49.4h-1.3M206.5 47.3h1.3M321.5 47.3h-1.3M206.5 45.6h1.3M321.5 45.6h-1.3M206.5 44.1h1.3M321.5 44.1h-1.3M206.5 42.8h1.3M321.5 42.8h-1.3M206.5 41.6h2.5M321.5 41.6h-2.5M206.5 33.8h1.3M321.5 33.8h-1.3M206.5 29.2h1.3M321.5 29.2h-1.3M206.5 26.0h1.3M321.5 26.0h-1.3M206.5 23.5h1.3M321.5 23.5h-1.3M206.5 21.4h1.3M321.5 21.4h-1.3M206.5 19.7h1.3M321.5 19.7h-1.3M206.5 18.2h1.3M321.5 18.2h-1.3M206.5 16.9h1.3M321.5 16.9h-1.3M206.5 15.7h2.5M321.5 15.7h-2.5M206.5 7.9h1.3M321.5 7.9h-1.3" stroke="#222" stroke-width="0.5" fill="none"/>
<text x="213.8" y="101.9" font-size="7.2" text-anchor="middle" fill="#111">0</text>
<text x="250.0" y="101.9" font-size="7.2" text-anchor="middle" fill="#111">20</text>
<text x="286.2" y="101.9" font-size="7.2" text-anchor="middle" fill="#111">40</text>
<text x="322.4" y="101.9" font-size="7.2" text-anchor="middle" fill="#111">60</text>
<text x="199.3" y="95.9" font-size="7.2" text-anchor="end" fill="#111">10</text>
<text x="199.5" y="91.3" font-size="4.3" fill="#111">&#8722;3</text>
<text x="199.3" y="70.0" font-size="7.2" text-anchor="end" fill="#111">10</text>
<text x="199.5" y="65.4" font-size="4.3" fill="#111">&#8722;2</text>
<text x="199.3" y="44.2" font-size="7.2" text-anchor="end" fill="#111">10</text>
<text x="199.5" y="39.6" font-size="4.3" fill="#111">&#8722;1</text>
<text x="199.3" y="18.3" font-size="7.2" text-anchor="end" fill="#111">10</text>
<text x="199.5" y="13.7" font-size="4.3" fill="#111">0</text>
<text x="264.7" y="110.4" font-size="8.03" text-anchor="middle" fill="#111">Energy Transfer (meV)</text>
<text transform="translate(187.2,49.5) rotate(-90)" font-size="8.09" text-anchor="middle" fill="#111">Intensity (arb. units)</text>
<text x="333.5" y="13.7" font-size="9.6" fill="#111" stroke="#111" stroke-width="0.35">(b)</text>
<ellipse cx="382.2" cy="44.5" rx="32" ry="13.7" fill="#5f3214"/>
<ellipse cx="358.0" cy="44.0" rx="2.3" ry="1.2" fill="#fff"/>
<ellipse cx="405.8" cy="45.3" rx="2.3" ry="1.2" fill="#fff"/>
<ellipse cx="379.1" cy="54.6" rx="2.3" ry="1.2" fill="#fff"/>
<path d="M346.8 19.2 A34.0 14.3 0 0 0 414.8 19.2 V28.7 A34.0 14.3 0 0 1 346.8 28.7 Z" fill="url(#side)"/>
<path d="M347.4 28.3 A33.4 14.3 0 0 0 399.5 40.1" fill="none" stroke="#b4c2d0" stroke-width="0.7"/>
<ellipse cx="380.8" cy="19.2" rx="34.0" ry="14.3" fill="url(#topf)" stroke="#9a9a9a" stroke-width="0.4"/>
<ellipse cx="380.6" cy="18.9" rx="11.8" ry="5.4" fill="url(#cone)" stroke="#8a8a8a" stroke-width="0.5"/>
<ellipse cx="381" cy="22.6" rx="3.6" ry="1.3" fill="#6a6a6a"/><ellipse cx="381.2" cy="23.1" rx="2.4" ry="0.7" fill="#d8d8d8"/>
<ellipse cx="383.8" cy="8.2" rx="5.0" ry="2.5" fill="#7c7e80"/>
<ellipse cx="383.8" cy="8.4" rx="3.6" ry="1.5" fill="#b8babc"/>
<ellipse cx="383.8" cy="8.5" rx="1.6" ry="0.8" fill="#7e8082"/>
<ellipse cx="355.5" cy="17.6" rx="4.8" ry="2.5" fill="#7c7e80"/>
<ellipse cx="355.5" cy="17.9" rx="3.5" ry="1.5" fill="#b8babc"/>
<ellipse cx="355.5" cy="17.9" rx="1.5" ry="0.8" fill="#7e8082"/>
<ellipse cx="377.8" cy="28.4" rx="5.0" ry="2.5" fill="#7c7e80"/>
<ellipse cx="377.8" cy="28.6" rx="3.6" ry="1.5" fill="#b8babc"/>
<ellipse cx="377.8" cy="28.7" rx="1.6" ry="0.8" fill="#7e8082"/>
<ellipse cx="404.6" cy="18.9" rx="4.8" ry="2.5" fill="#7c7e80"/>
<ellipse cx="404.6" cy="19.1" rx="3.5" ry="1.5" fill="#b8babc"/>
<ellipse cx="404.6" cy="19.2" rx="1.5" ry="0.8" fill="#7e8082"/>
<ellipse cx="365.6" cy="11.0" rx="3.0" ry="1.6" fill="#7c7e80"/>
<ellipse cx="365.6" cy="11.2" rx="2.2" ry="1.0" fill="#b8babc"/>
<ellipse cx="365.6" cy="11.3" rx="1.0" ry="0.5" fill="#7e8082"/>
<ellipse cx="362.3" cy="25.0" rx="3.0" ry="1.6" fill="#7c7e80"/>
<ellipse cx="362.3" cy="25.2" rx="2.2" ry="1.0" fill="#b8babc"/>
<ellipse cx="362.3" cy="25.3" rx="1.0" ry="0.5" fill="#7e8082"/>
<ellipse cx="398.5" cy="11.5" rx="3.0" ry="1.6" fill="#7c7e80"/>
<ellipse cx="398.5" cy="11.8" rx="2.2" ry="1.0" fill="#b8babc"/>
<ellipse cx="398.5" cy="11.8" rx="1.0" ry="0.5" fill="#7e8082"/>
<ellipse cx="395.8" cy="25.7" rx="3.0" ry="1.6" fill="#7c7e80"/>
<ellipse cx="395.8" cy="25.9" rx="2.2" ry="1.0" fill="#b8babc"/>
<ellipse cx="395.8" cy="26.0" rx="1.0" ry="0.5" fill="#7e8082"/>
<polygon points="378.2,61.9 390.4,62.3 388.2,68.6 375.6,68.2" fill="#80bc84" stroke="#3c7c46" stroke-width="0.5"/>
<ellipse cx="383.1" cy="76.3" rx="6.4" ry="3.1" fill="#9c2e28"/><ellipse cx="383.1" cy="76.4" rx="3.6" ry="1.5" fill="#cc9a36"/>
<path d="M351.0 110.6 A34.0 12.2 0 0 0 419.0 110.6 V116.0 A34.0 12.2 0 0 1 351.0 116.0 Z" fill="url(#side2)"/>
<path d="M351.2 112.2 A33.8 12.2 0 0 0 418.8 112.2" fill="none" stroke="#8a8a8a" stroke-width="0.45"/>
<path d="M351.2 113.6 A33.8 12.2 0 0 0 418.8 113.6" fill="none" stroke="#7a7a7a" stroke-width="0.45"/>
<path d="M351.2 114.8 A33.8 12.2 0 0 0 418.8 114.8" fill="none" stroke="#9a9a9a" stroke-width="0.45"/>
<ellipse cx="385.0" cy="110.6" rx="34.0" ry="12.2" fill="#b4b7ba" stroke="#8c8e90" stroke-width="0.4"/>
<ellipse cx="385.0" cy="109.9" rx="31.0" ry="10.7" fill="#c2c5c9" stroke="#a0a2a4" stroke-width="0.35"/>
<ellipse cx="360.3" cy="107.2" rx="1.8" ry="0.95" fill="#2c2c2c"/>
<ellipse cx="408.0" cy="108.0" rx="1.8" ry="0.95" fill="#2c2c2c"/>
<ellipse cx="381.9" cy="118.0" rx="1.8" ry="0.95" fill="#2c2c2c"/>
<ellipse cx="385.3" cy="97.1" rx="32.6" ry="12.6" fill="#5f3214"/>
<ellipse cx="360.5" cy="97.0" rx="2.2" ry="1.1" fill="#dfeaf2"/>
<ellipse cx="407.5" cy="98.2" rx="2.2" ry="1.1" fill="#dfeaf2"/>
<ellipse cx="381.7" cy="107.0" rx="2.2" ry="1.1" fill="#dfeaf2"/>
<ellipse cx="381.7" cy="107.2" rx="1.0" ry="0.5" fill="#3a5a70"/><ellipse cx="407.5" cy="98.4" rx="1.0" ry="0.5" fill="#6a8aa0"/>
<polygon points="380.2,82.7 390.9,83.0 389.3,89.8 377.8,89.5" fill="#80bc84" stroke="#3c7c46" stroke-width="0.5"/>
<path d="M416.7 20.7L424.8 16.2M413.1 38.7L422.7 33.9M395 61.9L415.2 54.6M398.4 73L415.8 65.8M359 69L376 75M398.4 82.4L414.7 77.3M415.2 91.3L419.2 89.7M419.7 107.4L424.8 106" stroke="#9a9a9a" stroke-width="0.4" fill="none"/>
<text x="425.3" y="15.6" font-size="4.2" fill="#000" stroke="#000" stroke-width="0.2">Al-disk</text>
<text x="424.0" y="34.0" font-size="4.2" fill="#000" stroke="#000" stroke-width="0.2">Kapton foil</text>
<text x="416.9" y="54.5" font-size="4.2" fill="#000" stroke="#000" stroke-width="0.2">Diamond plate</text>
<text x="416.9" y="66.6" font-size="4.2" fill="#000" stroke="#000" stroke-width="0.2">Pd disk</text>
<text x="346.0" y="69.0" font-size="4.2" fill="#000" stroke="#000" stroke-width="0.2">sample</text>
<text x="416.1" y="77.6" font-size="4.2" fill="#000" stroke="#000" stroke-width="0.2">Diamond plate</text>
<text x="420.3" y="90.5" font-size="4.2" fill="#000" stroke="#000" stroke-width="0.2">Kapton foil</text>
<text x="425.3" y="107.1" font-size="4.2" fill="#000" stroke="#000" stroke-width="0.2">Al-disk</text>
<clipPath id="phclip"><rect x="335.2" y="131" width="108.6" height="125.4"/></clipPath>
<filter id="soft" x="-5%" y="-5%" width="110%" height="110%"><feGaussianBlur stdDeviation="0.5"/></filter>
<filter id="soft1" x="-20%" y="-20%" width="140%" height="140%"><feGaussianBlur stdDeviation="1.0"/></filter>
<filter id="soft2" x="-30%" y="-30%" width="160%" height="160%"><feGaussianBlur stdDeviation="3"/></filter>
<rect x="335.2" y="131" width="108.6" height="125.4" fill="url(#photo)"/>
<g clip-path="url(#phclip)">
<g filter="url(#soft2)">
<ellipse cx="428" cy="228" rx="24" ry="34" fill="#b8a462" opacity="0.85"/>
<ellipse cx="418" cy="205" rx="20" ry="10" fill="#b6a46a" opacity="0.8"/>
<ellipse cx="441" cy="170" rx="8" ry="26" fill="#c0aa6a" opacity="0.7"/>
<ellipse cx="350" cy="246" rx="16" ry="10" fill="#d4bc7c" opacity="0.6"/>
<ellipse cx="360" cy="175" rx="18" ry="22" fill="#d4b470" opacity="0.5"/>
</g>
<g filter="url(#soft)">
<polygon points="373.6,184 424.5,197 423,201 372.4,188" fill="#d2c690" opacity="0.85"/>
<polygon points="385.6,137.4 440,146.6 424.5,196 374.4,183" fill="#b09858" stroke="#3a3016" stroke-width="0.7"/>
<polygon points="388.4,143.4 436,152 422.4,192.4 377.4,180.8" fill="#5a4c2a" stroke="#2a2210" stroke-width="0.7"/>
</g>
<g filter="url(#soft1)">
<ellipse cx="383" cy="177" rx="4.5" ry="3.5" fill="#86764a" opacity="0.8"/>
<ellipse cx="408" cy="184" rx="7" ry="4" fill="#7a6a40" opacity="0.8"/>
<ellipse cx="429" cy="176" rx="3.5" ry="7" fill="#76663c" opacity="0.8"/>
<ellipse cx="430" cy="153.5" rx="4" ry="2.5" fill="#807044" opacity="0.7"/>
</g>
<filter id="mott" x="0" y="0" width="100%" height="100%"><feTurbulence type="fractalNoise" baseFrequency="0.22" numOctaves="2" seed="4"/><feColorMatrix type="matrix" values="0 0 0 0 0.68  0 0 0 0 0.57  0 0 0 0 0.26  0 0 0 2.6 -1.35"/></filter>
<clipPath id="sq1"><polygon points="388.4,143.4 436,152 422.4,192.4 377.4,180.8"/></clipPath>
<clipPath id="sq2"><polygon points="359.4,194.6 405,209 388.8,247.6 344.4,230.2"/></clipPath>
<rect x="376" y="142" width="62" height="52" filter="url(#mott)" clip-path="url(#sq1)" opacity="0.55"/>
<g filter="url(#soft)">
<ellipse cx="393" cy="148.6" rx="9.2" ry="9.4" fill="#1e1a24"/>
<circle cx="389.5" cy="146" r="0.6" fill="#8a3a4a"/><circle cx="395" cy="151" r="0.5" fill="#7a3040"/><circle cx="397" cy="143" r="0.5" fill="#6a5aa0"/>
<ellipse cx="416.6" cy="160.3" rx="11.3" ry="10.6" fill="#5a4a30" stroke="#2e2616" stroke-width="1.0"/>
<path d="M421 150 A11.5 10.8 0 0 1 428.3 159" stroke="#a89868" stroke-width="0.6" fill="none"/>
<ellipse cx="395.2" cy="171.4" rx="9.6" ry="9.2" fill="#5a4a30" stroke="#2e2616" stroke-width="0.9"/>
<path d="M390 162Q398 160.8 403.5 164.2Q406.5 168.5 409 171.5Q411.5 172.6 414 172.2" stroke="#ede2b6" stroke-width="1.3" fill="none"/>
<path d="M403 178.5l2.5 1.2M401 174l2 0.5" stroke="#d8cc98" stroke-width="1.1"/>
<circle cx="380" cy="179" r="1" fill="#1a160c"/>
<polygon points="357.6,191 408.2,206.5 390.5,251.2 340.6,232" fill="#9a8240" stroke="#2e2612" stroke-width="0.8"/>
<polygon points="359.4,194.6 405,209 388.8,247.6 344.4,230.2" fill="#463a20"/>
</g>
<g filter="url(#soft1)">
<path d="M371 229 L384 226 L392 232 L390 246 L376 243 L367 237 Z" fill="#a88e40" opacity="0.95"/>
<ellipse cx="348.5" cy="226" rx="3" ry="5" fill="#a88c40" opacity="0.9"/>
<ellipse cx="358" cy="236" rx="4" ry="2" fill="#9a8038" opacity="0.8"/>
<ellipse cx="401" cy="222" rx="2.8" ry="8" fill="#a08638" opacity="0.85"/>
<ellipse cx="400" cy="210" rx="4" ry="2" fill="#b0923c" opacity="0.8"/>
<ellipse cx="380" cy="200" rx="4" ry="2" fill="#9a8038" opacity="0.7"/>
</g>
<rect x="343" y="193" width="64" height="56" filter="url(#mott)" clip-path="url(#sq2)" opacity="0.75"/>
<g filter="url(#soft)">
<ellipse cx="386.4" cy="213" rx="11.4" ry="10.8" fill="#4e4028" stroke="#2a2212" stroke-width="0.8"/>
<ellipse cx="359" cy="222.5" rx="11" ry="10.5" fill="#4a3d24" stroke="#2a2212" stroke-width="0.6"/>
<circle cx="367.4" cy="201.2" r="11.2" fill="#1a1619"/>
<circle cx="363" cy="197" r="0.6" fill="#b04858"/><circle cx="370" cy="203" r="0.6" fill="#b04858"/><circle cx="365" cy="206" r="0.5" fill="#a04050"/><circle cx="372" cy="196.5" r="0.5" fill="#a04050"/>
<circle cx="360.5" cy="191.6" r="0.9" fill="#40c080"/><circle cx="377.5" cy="199" r="0.7" fill="#50c090"/>
</g>
</g>
<text x="337.6" y="142.6" font-size="9.5" font-weight="bold" fill="#1a1608">(c)</text>
</svg></body></html>
